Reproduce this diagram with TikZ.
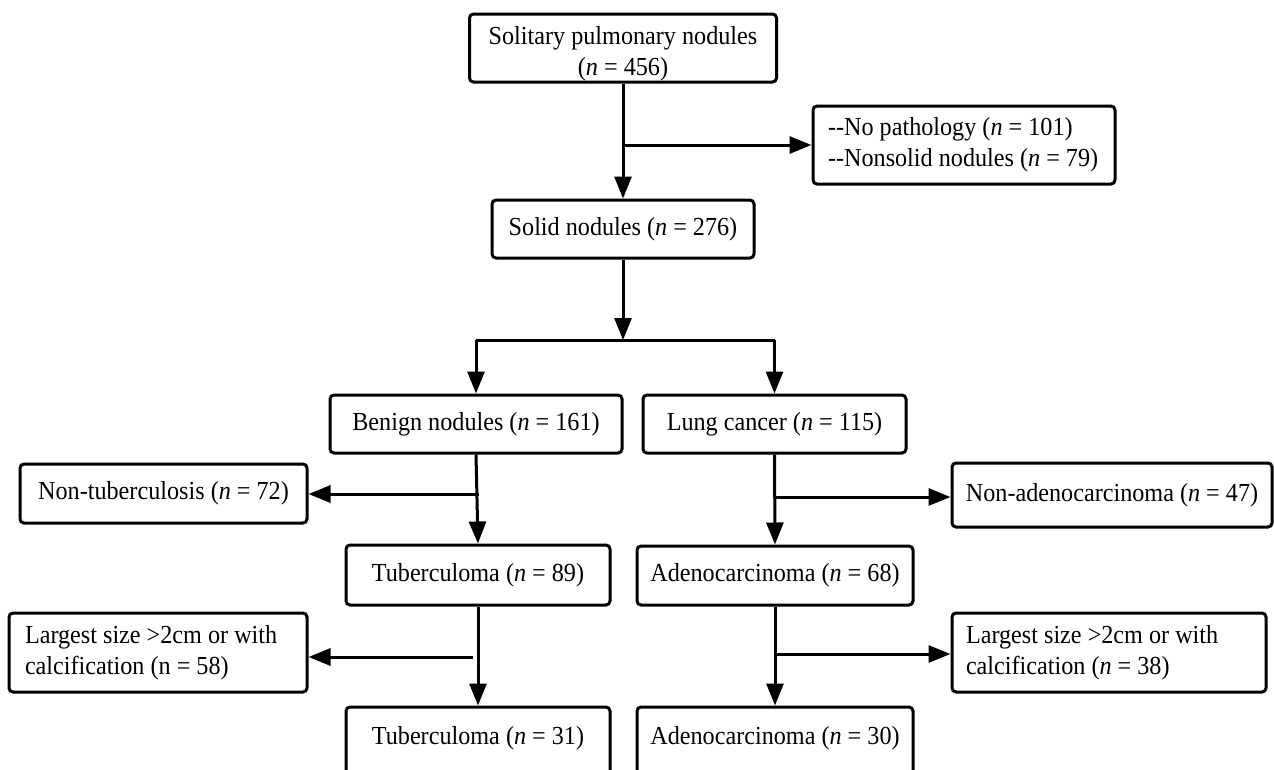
\documentclass[tikz,border=0pt]{standalone}
\usepackage{fontspec}
\setmainfont[FakeStretch=0.93]{Liberation Serif}
\usetikzlibrary{arrows.meta}
\begin{document}
\begin{tikzpicture}[x=1pt,y=-1pt,
  box/.style={draw=black,line width=3pt,rounded corners=4pt,fill=white,
    inner sep=0pt,align=center,font=\fontsize{26}{31}\selectfont},
  lbox/.style={box,align=flush left},
  conn/.style={line width=3pt},
  arr/.style={conn,-{Triangle[length=22pt,width=17pt]}}]
\useasboundingbox (0,0) rectangle (1274,769);
\clip (0,0) rectangle (1274,769);
\fill[white] (0,0) rectangle (1274,769);
% nodes
\node[box,minimum width=307pt,minimum height=68pt] (top) at (623,48)
  {\raisebox{-6pt}[\height][\depth]{\begin{tabular}{@{}c@{}}Solitary pulmonary nodules\\(\textit{n} = 456)\end{tabular}}};
\node[lbox,minimum width=302pt,minimum height=78pt,text width=272pt] (excl) at (964,145)
  {-{}-No pathology (\textit{n} = 101)\\-{}-Nonsolid nodules (\textit{n} = 79)};
\node[box,minimum width=262pt,minimum height=58pt] (solid) at (623,229)
  {Solid nodules (\textit{n} = 276)};
\node[box,minimum width=292pt,minimum height=58pt] (benign) at (476,424)
  {Benign nodules (\textit{n} = 161)};
\node[box,minimum width=263pt,minimum height=58pt] (lung) at (774.5,424)
  {Lung cancer (\textit{n} = 115)};
\node[box,minimum width=287pt,minimum height=59pt] (nontb) at (163.5,493.5)
  {Non-tuberculosis (\textit{n} = 72)};
\node[box,minimum width=264pt,minimum height=60pt] (tbA) at (478,575)
  {Tuberculoma (\textit{n} = 89)};
\node[lbox,minimum width=298pt,minimum height=79pt,text width=266pt] (lgL) at (158,652.5)
  {Largest size >2cm or with\\calcification (n = 58)};
\node[box,minimum width=264pt,minimum height=70pt] (tbB) at (478,742)
  {\raisebox{4pt}[\height][\depth]{Tuberculoma (\textit{n} = 31)}};
\node[box,minimum width=320pt,minimum height=64pt] (nonad) at (1112,495)
  {Non-adenocarcinoma (\textit{n} = 47)};
\node[box,minimum width=276pt,minimum height=59pt] (adA) at (775,575.5)
  {Adenocarcinoma (\textit{n} = 68)};
\node[lbox,minimum width=314pt,minimum height=79pt,text width=286pt] (lgR) at (1109,652.5)
  {Largest size >2cm or with\\calcification (\textit{n} = 38)};
\node[box,minimum width=276pt,minimum height=70pt] (adB) at (775,742)
  {\raisebox{4pt}[\height][\depth]{Adenocarcinoma (\textit{n} = 30)}};
% connectors
\coordinate (b1) at (623,145);
\draw[arr] (top.south) -- (solid.north);
\draw[arr] (b1) -- (excl.west);
\coordinate (s1) at (623,340);
\draw[arr] (solid.south) -- (s1);
\draw[conn] (benign.north |- s1) -- (lung.north |- s1);
\draw[arr] (benign.north |- s1) -- (benign.north);
\draw[arr] (lung.north |- s1) -- (lung.north);
% left column
\draw[arr] (benign.south) -- (tbA.north);
\coordinate (b2) at (479,494);
\draw[arr] (b2) -- (b2 -| nontb.east);
\draw[arr] (tbA.south) -- (tbB.north);
\coordinate (b3) at (473,657);
\draw[arr] (b3) -- (b3 -| lgL.east);
% right column
\draw[arr] (lung.south) -- (adA.north);
\coordinate (b4) at (776,497);
\draw[arr] (b4) -- (b4 -| nonad.west);
\draw[arr] (adA.south) -- (adB.north);
\coordinate (b5) at (777,654);
\draw[arr] (b5) -- (b5 -| lgR.west);
\end{tikzpicture}
\end{document}
